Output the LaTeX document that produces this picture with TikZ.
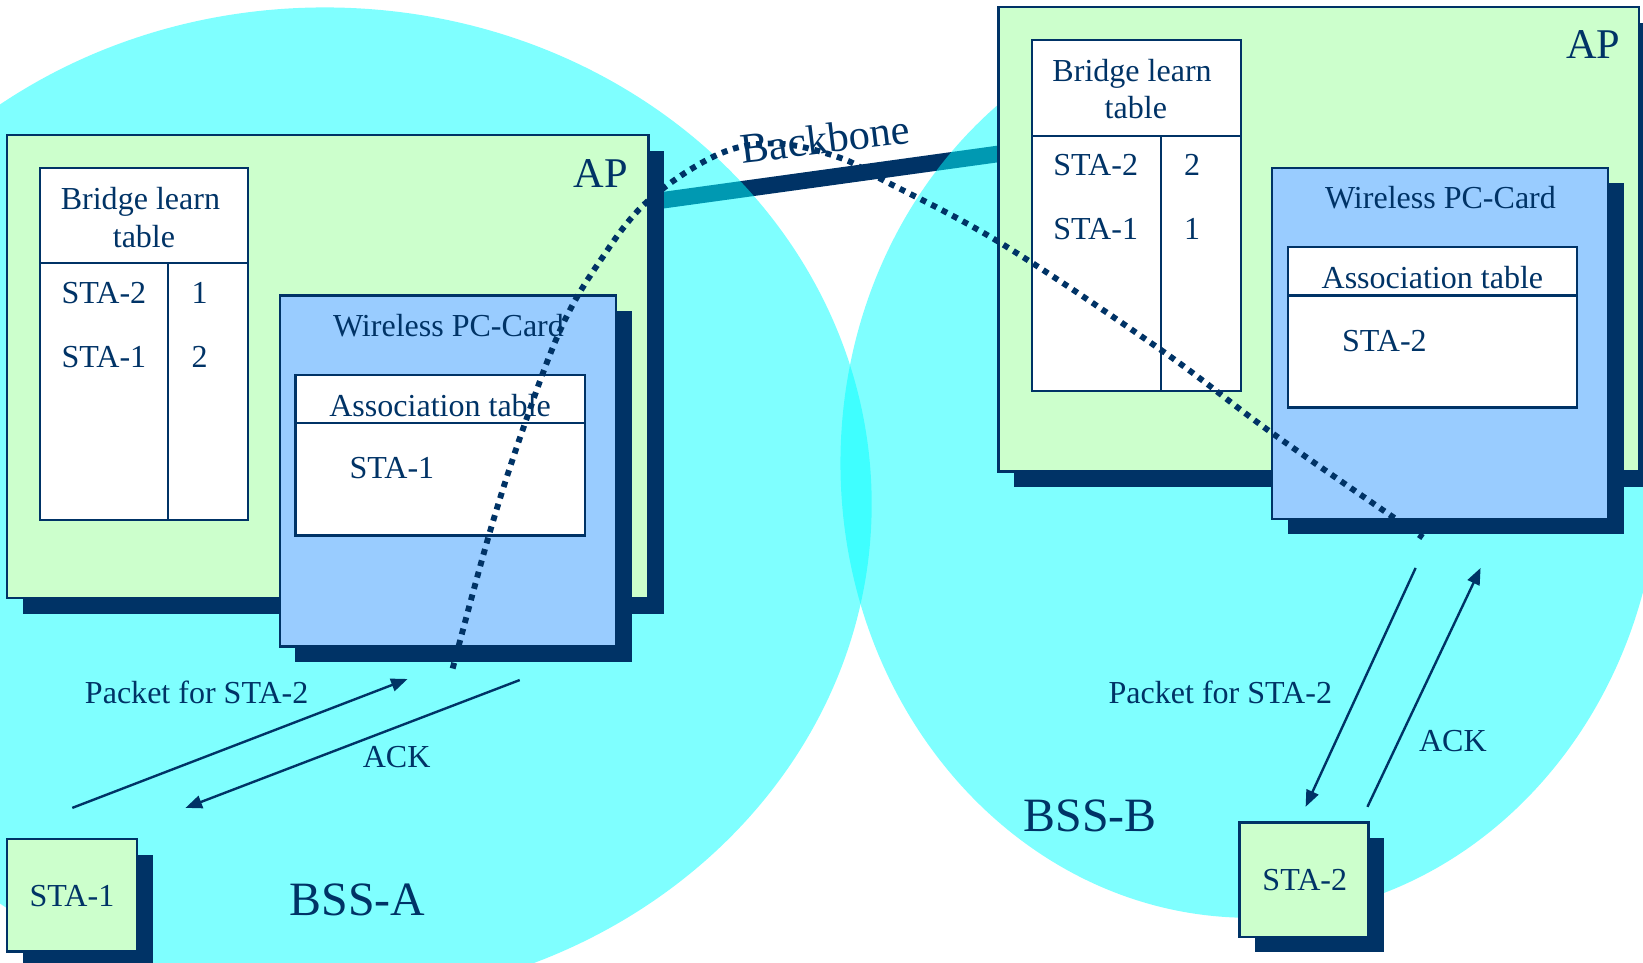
\documentclass[tikz,border=0pt]{standalone}
\usepackage{fontspec}
\setmainfont{Liberation Serif}
\usetikzlibrary{arrows.meta,shadows}
\definecolor{navy}{HTML}{003366}
\definecolor{apgreen}{HTML}{CCFFCC}
\definecolor{cardblue}{HTML}{99CCFF}
\definecolor{bsscyan}{HTML}{00FFFF}
\newcommand\bodyf{\fontsize{17.4pt}{20pt}\selectfont}
\newcommand\bigf{\fontsize{23pt}{26pt}\selectfont}
\newcommand\bssf{\fontsize{26pt}{30pt}\selectfont}
\begin{document}
\begin{tikzpicture}[x=0.02cm,y=-0.02cm,
  every node/.style={text=navy, inner sep=0pt, outer sep=0pt},
  shbox/.style={draw=navy, line width=1.2pt, anchor=north west,
    drop shadow={shadow xshift=0.3cm, shadow yshift=-0.3cm, fill=navy, opacity=1}},
  apbox/.style={shbox, fill=apgreen},
  cardbox/.style={shbox, fill=cardblue},
  tbl/.style={draw=navy, line width=1.2pt, fill=white, anchor=north west},
  tline/.style={draw=navy, line width=1.2pt},
  lbl/.style={font=\bodyf, anchor=base},
  lblw/.style={font=\bodyf, anchor=base west},
  arr/.style={draw=navy, line width=1.3pt, -{Triangle[length=9pt,width=7pt]}},
  dotline/.style={draw=navy, line width=3.2pt, dash pattern=on 3.2pt off 3.2pt}]
\useasboundingbox (0,0) rectangle (1568,919);
\clip (0,0) rectangle (1568,919);

% backbone (under the translucent cells)
\coordinate (bbL) at (600,195.6);
\coordinate (bbR) at (970,144.5);
\draw[navy, line width=9pt] (bbL) -- (bbR);

% BSS cells
\fill[bsscyan, fill opacity=0.5] (310,481) ellipse [x radius=10.44cm, y radius=9.48cm];
\fill[bsscyan, fill opacity=0.5] (1193,442) ellipse [x radius=7.82cm, y radius=8.68cm];

% ---- left AP ----
\node[apbox, minimum width=12.24cm, minimum height=8.84cm] (apL) at (7,129) {};
\node[tbl, minimum width=3.98cm, minimum height=6.72cm] (brL) at (38,160) {};
\draw[tline] (38,251) -- (237,251);
\draw[tline] (160,251) -- (160,496);
\node[cardbox, minimum width=6.42cm, minimum height=6.70cm] (cardL) at (267,282) {};
\node[tbl, minimum width=5.52cm, minimum height=3.06cm] (asL) at (282,358) {};
\draw[tline] (282,404) -- (558,404);

\node[lbl] (brLt1) at (134,199.7) {Bridge learn};
\node[lbl] (brLt2) at (137.4,236.2) {table};
\node[lblw] (brLa) at (58.8,290) {STA-2};
\node[lbl] (brLb) at (190.4,290) {1};
\node[lblw] (brLc) at (58.8,350.4) {STA-1};
\node[lbl] (brLd) at (190.4,350.4) {2};
\node[lbl] (cardLt) at (428,321.4) {Wireless PC-Card};
\node[lbl] (asLt) at (420,397.4) {Association table};
\node[lblw] (asLa) at (333.6,457) {STA-1};
\node[font=\bigf, anchor=base] (apLt) at (573.6,178.5) {AP};

% ---- right AP ----
\node[apbox, minimum width=12.22cm, minimum height=8.86cm] (apR) at (953,7) {};
\node[tbl, minimum width=3.98cm, minimum height=6.70cm] (brR) at (985,38) {};
\draw[tline] (985,129.5) -- (1184,129.5);
\draw[tline] (1108,129.5) -- (1108,373);
\node[cardbox, minimum width=6.42cm, minimum height=6.70cm] (cardR) at (1214,160) {};
\node[tbl, minimum width=5.52cm, minimum height=3.06cm] (asR) at (1229,236) {};
\draw[tline] (1229,282) -- (1505,282);

\node[lbl] (brRt1) at (1080.4,77.7) {Bridge learn};
\node[lbl] (brRt2) at (1084,113.2) {table};
\node[lblw] (brRa) at (1005.3,167.7) {STA-2};
\node[lbl] (brRb) at (1137.6,167.7) {2};
\node[lblw] (brRc) at (1005.3,228.4) {STA-1};
\node[lbl] (brRd) at (1137.6,228.4) {1};
\node[lbl] (cardRt) at (1374.7,199.4) {Wireless PC-Card};
\node[lbl] (asRt) at (1367,275.4) {Association table};
\node[lblw] (asRa) at (1280.8,335.7) {STA-2};
\node[font=\bigf, anchor=base] (apRt) at (1520.6,56.2) {AP};

% ---- stations ----
\node[apbox, minimum width=2.48cm, minimum height=2.14cm] (sta1) at (7,801) {};
\node[lbl] (sta1t) at (68.7,865.3) {STA-1};
\node[apbox, minimum width=2.46cm, minimum height=2.18cm] (sta2) at (1183,785) {};
\node[lbl] (sta2t) at (1245.2,850) {STA-2};

% ---- packet path (dotted) ----
\coordinate (dotS) at (432,638);
\coordinate (dotE) at (1358,513);
\draw[dotline] plot[smooth, tension=0.6] coordinates {(dotS) (468,506) (501,404) (536,312) (572,250) (617,193) (684,148) (740,137) (800,150) (843,172) (955,232) (1108,334) (1215,414) (dotE)};

% ---- frame exchanges ----
\coordinate (pL1) at (69,771);
\coordinate (pL2) at (389,648);
\coordinate (aL1) at (496,649);
\coordinate (aL2) at (177,771);
\draw[arr] (pL1) -- (pL2);
\draw[arr] (aL1) -- (aL2);
\coordinate (pR1) at (1351,542);
\coordinate (pR2) at (1246,770);
\coordinate (aR1) at (1305,770);
\coordinate (aR2) at (1413,542);
\draw[arr] (pR1) -- (pR2);
\draw[arr] (aR1) -- (aR2);

\node[lblw] (pktL) at (81.1,671.2) {Packet for STA-2};
\node[lbl] (ackL) at (378.5,732.6) {ACK};
\node[lblw] (pktR) at (1058,671.2) {Packet for STA-2};
\node[lbl] (ackR) at (1386.5,717.4) {ACK};

\node[font=\bssf, anchor=base] (bssA) at (341.3,873.3) {BSS-A};
\node[font=\bssf, anchor=base] (bssB) at (1040.5,793.8) {BSS-B};

\node[font=\bigf, anchor=base west, rotate=7] (bbt) at (709,156) {Backbone};
\end{tikzpicture}
\end{document}
